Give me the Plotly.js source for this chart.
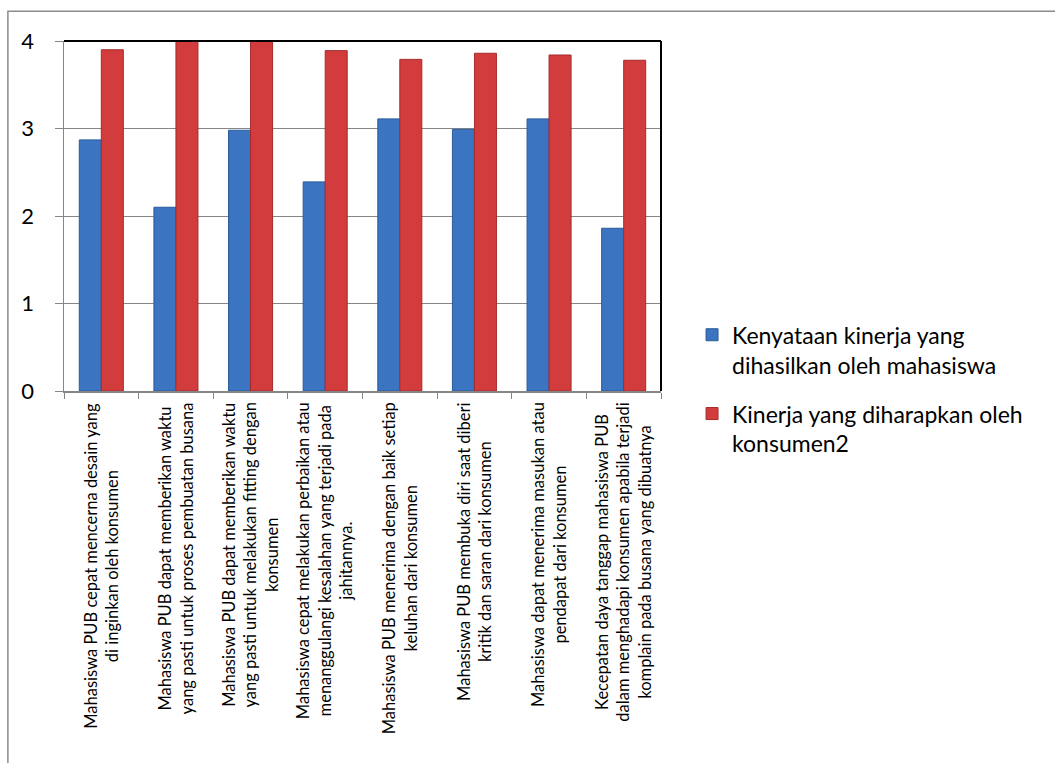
<!DOCTYPE html>
<html>
<head>
<meta charset="utf-8">
<script src="https://cdn.plot.ly/plotly-3.0.1.min.js"></script>
<style>html,body{margin:0;padding:0;background:#fff;}#chart{width:1055px;height:763px;}</style>
</head>
<body>
<div id="chart"></div>
<script>
var categoryLabels = [
  "Mahasiswa PUB cepat mencerna desain yang<br>di inginkan oleh konsumen",
  "Mahasiswa PUB dapat memberikan waktu<br>yang pasti untuk proses pembuatan busana",
  "Mahasiswa PUB dapat memberikan waktu<br>yang pasti untuk melakukan fitting dengan<br>konsumen",
  "Mahasiswa cepat melakukan perbaikan atau<br>menanggulangi kesalahan yang terjadi pada<br>jahitannya.",
  "Mahasiswa PUB menerima dengan baik setiap<br>keluhan dari konsumen",
  "Mahasiswa PUB membuka diri saat diberi<br>kritik dan saran dari konsumen",
  "Mahasiswa dapat menerima masukan atau<br>pendapat dari konsumen",
  "Kecepatan daya tanggap mahasiswa PUB<br>dalam menghadapi konsumen apabila terjadi<br>komplain pada busana yang dibuatnya"
];
var categories = ["c1","c2","c3","c4","c5","c6","c7","c8"];
var seriesNames = ["Kenyataan kinerja yang<br>dihasilkan oleh mahasiswa", "Kinerja yang diharapkan oleh<br>konsumen2"];
var kenyataan = [2.87, 2.10, 2.98, 2.39, 3.11, 2.99, 3.11, 1.86];
var harapan   = [3.90, 4.00, 4.00, 3.89, 3.79, 3.86, 3.84, 3.78];
var yTicks = [0, 1, 2, 3, 4];

var FONT = "Lato, 'Open Sans', sans-serif";

var traces = [
  {type:"bar", name:seriesNames[0], x:categories, y:kenyataan, legendgroup:"a",
   marker:{color:"#3b74c0", line:{color:"#2b5a9a", width:1}}},
  {type:"bar", name:seriesNames[1], x:categories, y:harapan, legendgroup:"b",
   marker:{color:"#d23c3c", line:{color:"#a52b2b", width:1}}}
];

var annotations = categories.map(function(c, i){
  return {xref:"x", yref:"paper", x:c, y:-0.027, xanchor:"center", yanchor:"top",
          text:categoryLabels[i], textangle:-90, showarrow:false, align:"center",
          font:{family:FONT, size:16.5, color:"#000"}};
});

var layout = {
  width:1055, height:763,
  paper_bgcolor:"#fff", plot_bgcolor:"#fff",
  margin:{l:64, r:394, t:41, b:372, pad:0},
  barmode:"group", bargap:0.41, bargroupgap:0,
  showlegend:true,
  legend:{x:1.052, y:0.222, xanchor:"left", yanchor:"top", valign:"top",
          traceorder:"grouped", tracegroupgap:16,
          font:{family:FONT, size:23, color:"#000"}, bgcolor:"rgba(0,0,0,0)"},
  xaxis:{type:"category", showticklabels:false, ticks:"outside", tickson:"boundaries",
         ticklen:6, tickcolor:"#868686", showline:true, linecolor:"#868686", linewidth:1.5,
         showgrid:false, fixedrange:true},
  yaxis:{range:[0,4], tickvals:yTicks, ticks:"outside", ticklen:8, tickcolor:"#868686",
         showline:true, linecolor:"#868686", linewidth:1.5, showgrid:true, gridcolor:"#868686",
         gridwidth:1, zeroline:false, ticklabelstandoff:16,
         tickfont:{family:FONT, size:22, color:"#000"}},
  annotations:annotations,
  shapes:[
    {type:"rect", xref:"paper", yref:"paper", x0:-0.094, x1:2, y0:-2, y1:1.085,
     line:{color:"#8c8c8c", width:1.5}, fillcolor:"rgba(0,0,0,0)", layer:"below"},
    {type:"line", xref:"paper", yref:"paper", x0:0, x1:1, y0:1, y1:1, line:{color:"#000", width:2}},
    {type:"line", xref:"paper", yref:"paper", x0:1, x1:1, y0:0, y1:1, line:{color:"#000", width:2}}
  ]
};

Plotly.newPlot("chart", traces, layout, {displayModeBar:false, staticPlot:true});
</script>
</body>
</html>
